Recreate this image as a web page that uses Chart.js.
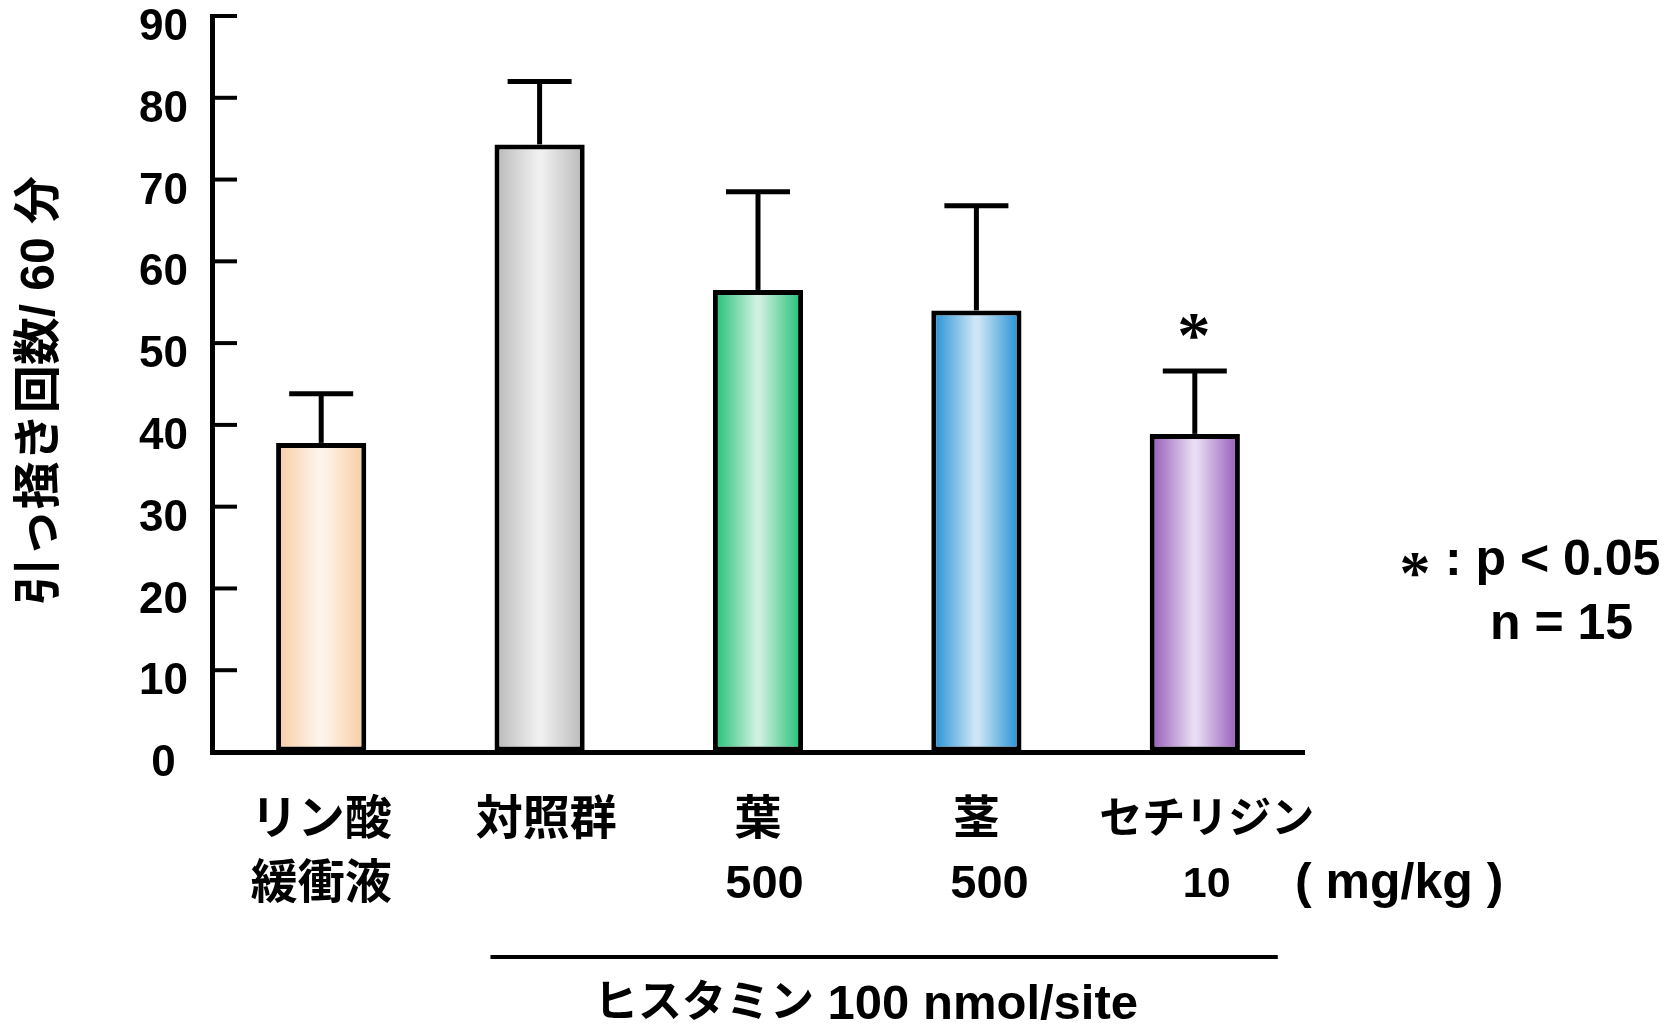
<!DOCTYPE html>
<html lang="ja">
<head>
<meta charset="utf-8">
<title>引っ掻き回数 / 60 分</title>
<script src="https://cdn.jsdelivr.net/npm/chart.js@4.4.1/dist/chart.umd.min.js"></script>
<style>
  html, body { margin: 0; padding: 0; background: #fff; }
  #wrap { width: 1675px; height: 1028px; }
</style>
</head>
<body>
<div id="wrap"><canvas id="c" width="1675" height="1028"></canvas></div>
<script>
// Groups (two-line labels under each bar)
const groupLabels = [
  ["リン酸", "緩衝液"],
  [" 対照群", ""],
  ["葉", " 500"],
  ["茎", "  500"],
  ["  セチリジン", "  10"]
];
// Scratch counts per 60 min (mean) and SEM
const scratchMean = [37.8, 74.3, 56.5, 54.0, 38.9];
const scratchSem  = [6.0, 7.7, 12.0, 12.8, 7.7];
// p < 0.05 vs control
const isSignificant = [false, false, false, false, true];
// y-axis tick values
const yTickValues = [0, 10, 20, 30, 40, 50, 60, 70, 80, 90];

// Bar shading: edge colour and highlight colour for each group
const edgeColors   = ["#F8CBA0", "#B8B8B8", "#1BBE71", "#1A8CD2", "#9355B8"];
const centerColors = ["#FEF4EC", "#F0F0F0", "#CFF0E0", "#CDE6F6", "#E8DDF2"];
// label font size per group
const labelSizes = [47, 47, 47, 47, 43];

const FONT = '"Liberation Sans", Arial, "Noto Sans CJK JP", sans-serif';
const STAR_FONT = '"Liberation Serif", "Times New Roman", serif';
const BAR_PCT = 0.413;

function barGradient(c) {
  const chart = c.chart;
  const i = c.dataIndex;
  const xs = chart.scales.x;
  if (c.type !== 'data' || !xs || !isFinite(xs.width) || xs.width <= 0) return edgeColors[i] || '#ccc';
  const px = xs.getPixelForValue(i);
  const hw = (xs.width / groupLabels.length) * BAR_PCT / 2;
  const g = chart.ctx.createLinearGradient(px - hw, 0, px + hw, 0);
  g.addColorStop(0, edgeColors[i]);
  g.addColorStop(0.48, centerColors[i]);
  g.addColorStop(0.52, centerColors[i]);
  g.addColorStop(1, edgeColors[i]);
  return g;
}

// Bold serif asterisk centred on (x, y); ink spans about 0.255–0.691 em above the baseline
function drawStar(ctx, x, y, inkH) {
  const size = inkH / 0.436;
  ctx.save();
  ctx.font = 'bold ' + size.toFixed(1) + 'px ' + STAR_FONT;
  ctx.textAlign = 'center';
  ctx.textBaseline = 'alphabetic';
  ctx.fillStyle = '#000';
  ctx.fillText('*', x, y + 0.473 * size);
  ctx.restore();
}

// Inward tick marks on the y axis
const innerTicks = {
  id: 'innerTicks',
  afterDatasetsDraw(chart) {
    const ctx = chart.ctx, ys = chart.scales.y, left = chart.chartArea.left;
    ctx.save();
    ctx.strokeStyle = '#000';
    ctx.lineWidth = 4;
    ctx.lineCap = 'butt';
    yTickValues.forEach(v => {
      const py = ys.getPixelForValue(v);
      ctx.beginPath();
      ctx.moveTo(left, py);
      ctx.lineTo(left + 25, py);
      ctx.stroke();
    });
    ctx.restore();
  }
};

// SEM bars (upper half only) and significance marks
const errorBars = {
  id: 'errorBars',
  afterDatasetsDraw(chart) {
    const ctx = chart.ctx, xs = chart.scales.x, ys = chart.scales.y;
    ctx.save();
    ctx.strokeStyle = '#000';
    ctx.lineWidth = 5;
    ctx.lineCap = 'butt';
    scratchMean.forEach((m, i) => {
      const px = xs.getPixelForValue(i);
      const yTop = ys.getPixelForValue(m);
      const yErr = ys.getPixelForValue(m + scratchSem[i]);
      ctx.beginPath();
      ctx.moveTo(px, yTop);
      ctx.lineTo(px, yErr);
      ctx.stroke();
      ctx.beginPath();
      ctx.moveTo(px - 32, yErr);
      ctx.lineTo(px + 32, yErr);
      ctx.stroke();
      if (isSignificant[i]) drawStar(ctx, px - 1, yErr - 45, 29);
    });
    ctx.restore();
  }
};

// Dose unit, footnotes and the histamine bracket
const annotations = {
  id: 'annotations',
  afterDraw(chart) {
    const ctx = chart.ctx, xs = chart.scales.x;
    const step = xs.width / groupLabels.length;
    ctx.save();
    ctx.fillStyle = '#000';
    ctx.textBaseline = 'middle';
    ctx.textAlign = 'left';

    ctx.font = 'bold 50px ' + FONT;
    ctx.fillText('( mg/kg )', 1295, 884);

    // footnotes
    drawStar(ctx, 1415, 564, 27);
    ctx.font = 'bold 50px ' + FONT;
    ctx.fillText(': p < 0.05', 1445, 561);
    ctx.fillText('n = 15', 1490, 625);

    // bracket line under the histamine groups
    const x0 = xs.getPixelForValue(1) - step * 0.225;
    const x1 = xs.getPixelForValue(4) + step * 0.38;
    ctx.strokeStyle = '#000';
    ctx.lineWidth = 4;
    ctx.beginPath();
    ctx.moveTo(x0, 957);
    ctx.lineTo(x1, 957);
    ctx.stroke();

    // "ヒスタミン  100 nmol/site"
    ctx.font = 'bold 44px ' + FONT;
    const w1 = ctx.measureText('ヒスタミン').width;
    ctx.font = 'bold 49px ' + FONT;
    const w2 = ctx.measureText(' 100 nmol/site').width;
    const startX = 866 - (w1 + w2) / 2;
    ctx.font = 'bold 44px ' + FONT;
    ctx.fillText('ヒスタミン', startX, 1005);
    ctx.font = 'bold 49px ' + FONT;
    ctx.fillText(' 100 nmol/site', startX + w1, 1005);
    ctx.restore();
  }
};

new Chart(document.getElementById('c'), {
  type: 'bar',
  data: {
    labels: groupLabels,
    datasets: [{
      data: scratchMean,
      backgroundColor: barGradient,
      borderColor: '#000',
      borderWidth: 5,
      borderSkipped: false,
      barPercentage: BAR_PCT,
      categoryPercentage: 1
    }]
  },
  options: {
    responsive: false,
    animation: false,
    devicePixelRatio: 1,
    layout: { autoPadding: false, padding: { left: 0, top: 16, right: 371, bottom: 0 } },
    plugins: { legend: { display: false }, tooltip: { enabled: false } },
    scales: {
      x: {
        type: 'category',
        offset: true,
        grid: { display: true, drawOnChartArea: false, drawTicks: false, color: 'rgba(0,0,0,0)' },
        border: { display: true, color: '#000', width: 5 },
        ticks: {
          color: '#000',
          font: (c) => ({ family: FONT, size: labelSizes[c.index] || 45, weight: 'bold', lineHeight: '64px' }),
          padding: 37,
          maxRotation: 0,
          autoSkip: false
        },
        afterFit(s) {
          s.height = 276;
          s.paddingLeft = 0; s.paddingRight = 0; s.paddingTop = 0; s.paddingBottom = 0;
        }
      },
      y: {
        min: 0,
        max: 90,
        grid: { display: true, drawOnChartArea: false, drawTicks: false, color: 'rgba(0,0,0,0)' },
        border: { display: true, color: '#000', width: 5 },
        afterBuildTicks(s) { s.ticks = yTickValues.map(v => ({ value: v })); },
        ticks: {
          color: '#000',
          font: { family: FONT, size: 44, weight: 'bold' },
          crossAlign: 'center',
          padding: 24,
          labelOffset: 12
        },
        title: {
          display: true,
          text: '引っ掻き回数/ 60 分 ',
          color: '#000',
          font: { family: FONT, size: 48, weight: 'bold', lineHeight: 1.2 },
          padding: { top: 12, bottom: 0 }
        },
        afterFit(s) {
          s.width = 212;
          s.paddingLeft = 0; s.paddingRight = 0; s.paddingTop = 0; s.paddingBottom = 0;
        }
      }
    }
  },
  plugins: [innerTicks, errorBars, annotations]
});
</script>
</body>
</html>
